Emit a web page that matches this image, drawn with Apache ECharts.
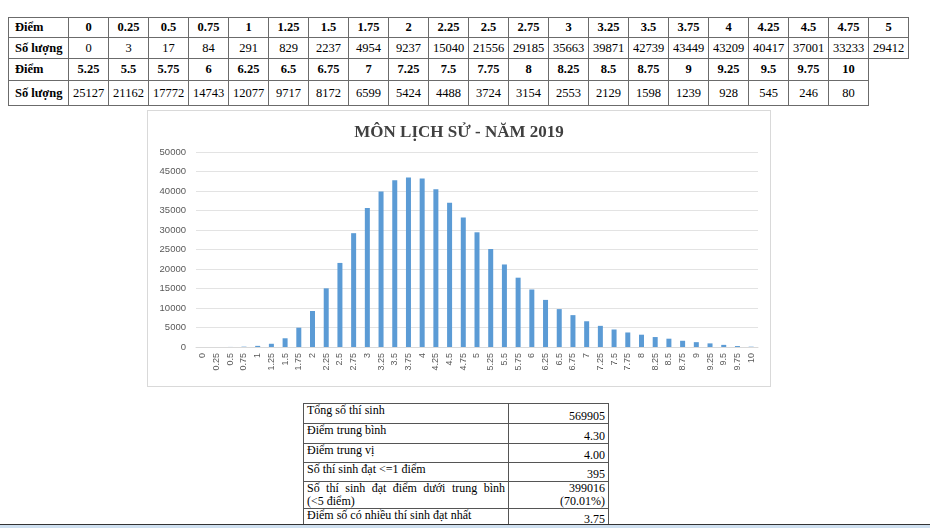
<!DOCTYPE html>
<html>
<head>
<meta charset="utf-8">
<script src="https://cdn.jsdelivr.net/npm/echarts@6/dist/echarts.min.js"></script>
<style>
  html, body { margin:0; padding:0; background:#fff; width:930px; height:528px; overflow:hidden; position:relative; font-family:"Liberation Serif", serif; }
  table, td { font-family:"Liberation Serif", "Times New Roman", serif; }
  #top { position:absolute; left:8px; top:17px; border-collapse:collapse; table-layout:fixed; font-size:12.5px; color:#000; }
  #top td { border:1px solid #6b6b6b; text-align:center; padding:0; white-space:nowrap; }
  #top td.h { text-align:left; padding-left:6px; font-weight:bold; }
  #top tr.hd td { font-weight:bold; }
  #top td.empty { border:none; }
  #chart { position:absolute; left:147px; top:110px; width:622px; height:275px; border:1px solid #d9d9d9; }
  #stats { position:absolute; left:303px; top:403px; border-collapse:collapse; table-layout:fixed; font-size:12px; color:#000; }
  #stats td { border:1px solid #555; padding:0 3px; line-height:13px; }
  #stats td.l { vertical-align:top; }
  #stats td.v { text-align:right; vertical-align:bottom; }
  #stats .just { text-align:justify; text-align-last:justify; }
  #strip { position:absolute; left:0; top:524px; width:930px; height:4px; background:#cfe0f0; border-top:1px solid #333; }
</style>
</head>
<body>
<table id="top"></table>
<div id="chart"></div>
<table id="stats"></table>
<div id="strip"></div>
<script>
const scores = ['0','0.25','0.5','0.75','1','1.25','1.5','1.75','2','2.25','2.5','2.75','3','3.25','3.5','3.75','4','4.25','4.5','4.75','5',
  '5.25','5.5','5.75','6','6.25','6.5','6.75','7','7.25','7.5','7.75','8','8.25','8.5','8.75','9','9.25','9.5','9.75','10'];
const counts = [0,3,17,84,291,829,2237,4954,9237,15040,21556,29185,35663,39871,42739,43449,43209,40417,37001,33233,29412,
  25127,21162,17772,14743,12077,9717,8172,6599,5424,4488,3724,3154,2553,2129,1598,1239,928,545,246,80];
const chartTitle = 'MÔN LỊCH SỬ - NĂM 2019';
const yMax = 50000;
const yStep = 5000;
const rowHeadScore = 'Điểm';
const rowHeadCount = 'Số lượng';
const statLabels = [['Tổng số thí sinh'],['Điểm trung bình'],['Điểm trung vị'],['Số thí sinh đạt <=1 điểm'],['Số thí sinh đạt điểm dưới trung bình','(<5 điểm)'],['Điểm số có nhiều thí sinh đạt nhất']];
const statValues = [['569905'],['4.30'],['4.00'],['395'],['399016','(70.01%)'],['3.75']];

function esc(s){ return s.replace(/&/g,'&amp;').replace(/</g,'&lt;'); }

// top table
(function(){
  const t = document.getElementById('top');
  const firstN = 21;
  let html = '<colgroup><col style="width:60px">';
  for (let i=0;i<firstN;i++) html += '<col style="width:40px">';
  html += '</colgroup>';
  const parts = [[0, firstN], [firstN, scores.length]];
  const heights = [[20,21],[22,25]];
  parts.forEach((p, k) => {
    const s = scores.slice(p[0], p[1]);
    const c = counts.slice(p[0], p[1]);
    let r1 = '<tr class="hd" style="height:'+heights[k][0]+'px"><td class="h">'+rowHeadScore+'</td>';
    let r2 = '<tr style="height:'+heights[k][1]+'px"><td class="h">'+rowHeadCount+'</td>';
    for (let i=0;i<firstN;i++) {
      if (i < s.length) { r1 += '<td>'+s[i]+'</td>'; r2 += '<td>'+c[i]+'</td>'; }
      else { r1 += '<td class="empty"></td>'; r2 += '<td class="empty"></td>'; }
    }
    html += r1 + '</tr>' + r2 + '</tr>';
  });
  t.innerHTML = html;
})();

// stats table
(function(){
  const t = document.getElementById('stats');
  const hs = [20,20,19,19,26,18];
  let html = '<colgroup><col style="width:205px"><col style="width:100px"></colgroup>';
  statLabels.forEach((l,i) => {
    const lab = l.length > 1 ? '<div class="just">'+esc(l[0])+'</div><div>'+esc(l[1])+'</div>' : esc(l[0]);
    html += '<tr style="height:'+hs[i]+'px"><td class="l">'+lab+'</td><td class="v">'+statValues[i].map(esc).join('<br>')+'</td></tr>';
  });
  t.innerHTML = html;
})();

const chart = echarts.init(document.getElementById('chart'));
chart.setOption({
  animation:false,
  title:{ text:chartTitle, left:'center', top:8, textStyle:{ fontFamily:'Liberation Serif', fontSize:17, fontWeight:'bold', color:'#404040' } },
  grid:{ left:48, right:12, top:41, bottom:39 },
  xAxis:{
    type:'category', data:scores,
    axisTick:{show:false},
    axisLine:{ lineStyle:{ color:'#d9d9d9' } },
    axisLabel:{ interval:0, rotate:90, color:'#595959', fontSize:9, fontFamily:'Liberation Sans', margin:6 }
  },
  yAxis:{
    type:'value', min:0, max:yMax, interval:yStep,
    axisLine:{show:false}, axisTick:{show:false},
    splitLine:{ lineStyle:{ color:'#e3e3e3' } },
    axisLabel:{ color:'#595959', fontSize:9.5, fontFamily:'Liberation Sans', margin:10, formatter: v => String(v) }
  },
  series:[{ type:'bar', data:counts, barWidth:5, itemStyle:{ color:'#5b9bd5' } }]
});
</script>
</body>
</html>
